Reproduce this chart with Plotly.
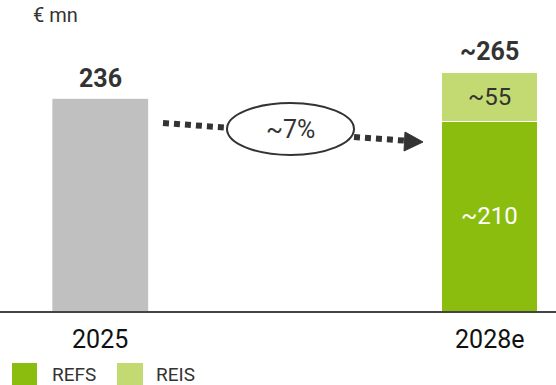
import plotly.graph_objects as go

# ---- data ----
categories = ["2025", "2028e"]
total_2025 = [236, None]
refs = [None, 210]
reis = [None, 55]
totals_labels = ["236", "~265"]
refs_label = "~210"
reis_label = "~55"
cagr_label = "~7%"
unit_label = "€ mn"
series_names = ["REFS", "REIS"]

GRAY = "#c0c0c0"
GREEN = "#8bbd0f"
LIGHT = "#c3da72"
DARK = "#333333"
FONT = "Roboto"

W, H = 556, 385
ML, MR, MT, MB = 0, 0, 20, 74
PW, PH = W - ML - MR, H - MT - MB


def px(x, y):
    return (x - ML) / PW, (H - MB - y) / PH


fig = go.Figure()
fig.add_bar(x=categories, y=total_2025, marker_color=GRAY, width=0.247,
            showlegend=False, name="Total")
fig.add_bar(x=categories, y=refs, marker=dict(color=GREEN, line=dict(color="white", width=1)),
            width=0.247, name=series_names[0], showlegend=False)
fig.add_bar(x=categories, y=reis, marker=dict(color=LIGHT, line=dict(color="white", width=1)),
            width=0.247, name=series_names[1], showlegend=False)

ann = []
# totals (category positions by index)
tot_vals = [total_2025[0], refs[1] + reis[1]]
for i, (v, t) in enumerate(zip(tot_vals, totals_labels)):
    ann.append(dict(x=i, y=v, text=f"<b>{t}</b>", showarrow=False, yanchor="bottom", yshift=4,
                    font=dict(family=FONT, size=25, color=DARK)))
ann.append(dict(x=1, y=refs[1] / 2, text=refs_label, showarrow=False,
                font=dict(family=FONT, size=24, color="white")))
ann.append(dict(x=1, y=refs[1] + reis[1] / 2, text=reis_label, showarrow=False,
                font=dict(family=FONT, size=24, color=DARK)))
# unit
ux, uy = px(31, 15)
ann.append(dict(xref="paper", yref="paper", x=ux, y=uy, text=unit_label, showarrow=False,
                xanchor="left", yanchor="middle", font=dict(family=FONT, size=20, color=DARK)))
# CAGR text
cx, cy = px(290, 129)
ann.append(dict(xref="paper", yref="paper", x=cx, y=cy, text=cagr_label, showarrow=False,
                font=dict(family=FONT, size=25, color=DARK)))

shapes = []
# dotted arrow
def ly(x):
    return 123 + (x - 163) * (142 - 123) / (423 - 163)

for xa, xb in [(163, 228), (354, 408)]:
    a = px(xa, ly(xa)); b = px(xb, ly(xb))
    shapes.append(dict(type="line", xref="paper", yref="paper", x0=a[0], y0=a[1], x1=b[0], y1=b[1],
                       line=dict(color=DARK, width=6, dash="6px,5px")))
# arrow head
tip = px(423, 142)
b1 = px(405, 132)
b2 = px(404, 151)
shapes.append(dict(type="path", xref="paper", yref="paper",
                   path=f"M {tip[0]} {tip[1]} L {b1[0]} {b1[1]} L {b2[0]} {b2[1]} Z",
                   fillcolor=DARK, line=dict(color=DARK, width=1)))
# ellipse
e0 = px(227, 155); e1 = px(354, 103)
shapes.append(dict(type="circle", xref="paper", yref="paper", x0=e0[0], y0=e0[1], x1=e1[0], y1=e1[1],
                   fillcolor="white", line=dict(color=DARK, width=2)))

# manual legend
for (x0, x1, tx), name, col in zip([(12, 37, 50), (117, 143, 154)], series_names, [GREEN, LIGHT]):
    a = px(x0, 363); b = px(x1, 385)
    shapes.append(dict(type="rect", xref="paper", yref="paper", x0=a[0], y0=a[1], x1=b[0], y1=b[1],
                       fillcolor=col, line=dict(width=0)))
    t = px(tx, 374)
    ann.append(dict(xref="paper", yref="paper", x=t[0], y=t[1], text=name, showarrow=False,
                    xanchor="left", yanchor="middle", font=dict(family=FONT, size=19, color=DARK)))

fig.update_layout(
    width=W, height=H, margin=dict(l=ML, r=MR, t=MT, b=MB),
    barmode="stack", plot_bgcolor="white", paper_bgcolor="white",
    showlegend=False, annotations=ann, shapes=shapes,
    xaxis=dict(type="category", range=[-0.257, 1.170], showline=True, linecolor="#444", linewidth=2,
               showgrid=False, ticks="", ticklabelstandoff=5,
               tickfont=dict(family=FONT, size=25, color="#111")),
    yaxis=dict(range=[0, 323.3], visible=False, showgrid=False),
)
fig.write_html("out.html")
